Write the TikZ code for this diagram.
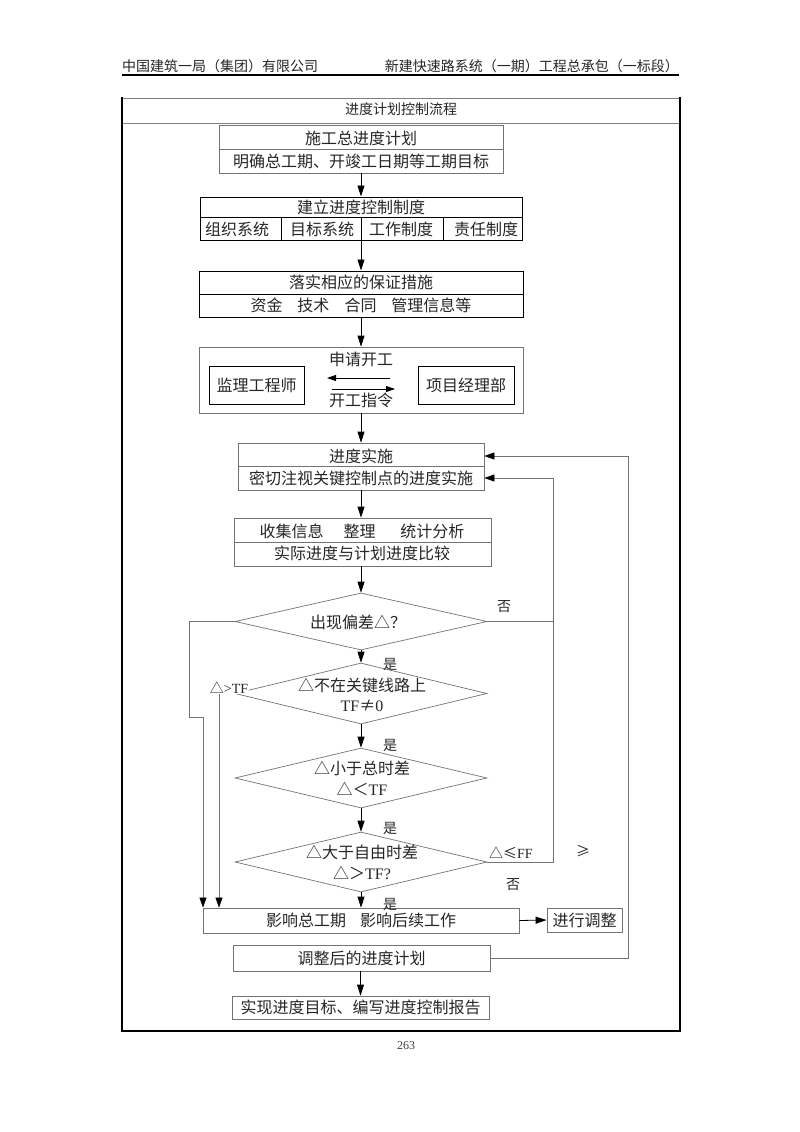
\documentclass[tikz,border=0pt]{standalone}
\usepackage{fontspec}
\setmainfont{Liberation Serif}
\newfontfamily\cjk{Noto Sans CJK SC}
\usetikzlibrary{arrows.meta,shapes.geometric}
\begin{document}
\begin{tikzpicture}[x=1pt,y=-1pt,
 gbox/.style={draw=black!55, line width=0.8pt, inner sep=0pt, rectangle},
 kbox/.style={draw=black, line width=1pt, inner sep=0pt, rectangle},
 dia/.style={draw=black!55, line width=0.7pt, diamond, inner sep=0pt},
 txt/.style={font=\cjk\fontsize{16pt}{16pt}\selectfont, inner sep=0pt, text=black!85},
 sm/.style={font=\cjk\fontsize{14pt}{14pt}\selectfont, inner sep=0pt, text=black!85},
 flow/.style={draw=black, line width=0.8pt, -{Triangle[length=11pt,width=7pt]}},
 small/.style={draw=black, line width=0.8pt, -{Triangle[length=9pt,width=6pt]}},
 loopline/.style={draw=black!55, line width=0.7pt, -{Triangle[length=10pt,width=7pt,color=black]}},
 plain/.style={draw=black!55, line width=0.7pt},
 ]
\useasboundingbox (0,0) rectangle (800,1132);
\fill[white] (0,0) rectangle (800,1132);

% header
\node[sm, anchor=west] (hl) at (122,66) {中国建筑一局（集团）有限公司};
\node[sm, anchor=east] (hr) at (679,66) {新建快速路系统（一期）工程总承包（一标段）};
\draw[black, line width=1.6pt] (122,75) -- (679,75);

% frame
\draw[black!50, line width=0.8pt] (122,98) -- (680,98);
\draw[black!50, line width=0.8pt] (122,123) -- (680,123);
\draw[black, line width=2.4pt] (122,97) -- (122,1031);
\draw[black, line width=2.4pt] (680,97) -- (680,1031);
\draw[black, line width=2.4pt] (121,1031) -- (681,1031);
\node[sm] (title) at (401,109) {进度计划控制流程};
\node[font=\fontsize{12pt}{12pt}\selectfont, text=black!75, inner sep=0pt] (page) at (406,1046) {263};

% box 1
\node[gbox, minimum width=284pt, minimum height=48pt] (b1) at (361,149) {};
\draw[black!55, line width=0.8pt] (b1.west) -- (b1.east);
\node[txt] (b1a) at (361,138) {施工总进度计划};
\node[txt] (b1b) at (361,161) {明确总工期、开竣工日期等工期目标};

% box 2
\node[kbox, minimum width=322pt, minimum height=43pt] (b2) at (361,218.5) {};
\draw[black, line width=1pt] (200,217) -- (522,217);
\draw[black, line width=1pt] (281,217) -- (281,240);
\draw[black, line width=1pt] (361,217) -- (361,240);
\draw[black, line width=1pt] (443,217) -- (443,240);
\node[txt] (b2a) at (361,207) {建立进度控制制度};
\node[txt] (b2c1) at (237,229) {组织系统};
\node[txt] (b2c2) at (322,229) {目标系统};
\node[txt] (b2c3) at (401,229) {工作制度};
\node[txt] (b2c4) at (486,229) {责任制度};

% box 3
\node[kbox, minimum width=324pt, minimum height=46pt] (b3) at (361,294) {};
\draw[black, line width=1pt] (b3.west) -- (b3.east);
\node[txt] (b3a) at (361,282) {落实相应的保证措施};
\node[txt] (b3b) at (361,305) {资金\hspace{15pt}技术\hspace{15pt}合同\hspace{15pt}管理信息等};

% box 4
\node[gbox, minimum width=324pt, minimum height=66pt] (b4) at (361,380) {};
\node[kbox, minimum width=95pt, minimum height=38pt] (jl) at (256.5,385) {};
\node[txt] (jlt) at (256.5,385) {监理工程师};
\node[kbox, minimum width=96pt, minimum height=38pt] (xm) at (466,385) {};
\node[txt] (xmt) at (466,385) {项目经理部};
\coordinate (a1s) at (390,378);
\coordinate (a1e) at (327,378);
\coordinate (a2s) at (332,389);
\coordinate (a2e) at (395,389);
\draw[small] (a1s) -- (a1e);
\draw[small] (a2s) -- (a2e);
\node[txt] (sq) at (361,359) {申请开工};
\node[txt] (zl) at (361,400) {开工指令};

% box 5
\node[gbox, minimum width=246pt, minimum height=47pt] (b5) at (361,466.5) {};
\draw[black!55, line width=0.8pt] (238,466) -- (484,466);
\node[txt] (b5a) at (361,456) {进度实施};
\node[txt] (b5b) at (361,478) {密切注视关键控制点的进度实施};

% box 6
\node[gbox, minimum width=257pt, minimum height=48pt] (b6) at (362.5,542) {};
\draw[black!55, line width=0.8pt] (b6.west) -- (b6.east);
\node[txt] (b6a) at (362,531) {收集信息\hspace{20pt}整理\hspace{25pt}统计分析};
\node[txt] (b6b) at (362,553) {实际进度与计划进度比较};

% diamonds
\node[dia, minimum width=252pt, minimum height=57pt] (d1) at (361,621.5) {};
\node[txt] (d1t) at (358,622) {出现偏差△？};
\node[dia, minimum width=252pt, minimum height=61pt] (d2) at (361,693.5) {};
\node[txt] (d2a) at (362,685) {△不在关键线路上};
\node[txt] (d2b) at (362,706) {\rmfamily TF{\cjk ≠}0};
\node[dia, minimum width=252pt, minimum height=60pt] (d3) at (361,778) {};
\node[txt] (d3a) at (362,768) {△小于总时差};
\node[txt] (d3b) at (362,789) {△＜{\rmfamily TF}};
\node[dia, minimum width=252pt, minimum height=60pt] (d4) at (361,862) {};
\node[txt] (d4a) at (362,852) {△大于自由时差};
\node[txt] (d4b) at (362,873) {△＞{\rmfamily TF?}};

% lower boxes
\node[gbox, minimum width=316pt, minimum height=25pt] (yx) at (361,920.5) {};
\node[txt] (yxt) at (361,920) {影响总工期\hspace{14pt}影响后续工作};
\node[gbox, minimum width=75pt, minimum height=24pt] (jt) at (584.5,920) {};
\node[txt] (jtt) at (584.5,920) {进行调整};
\node[gbox, minimum width=257pt, minimum height=26pt] (tz) at (361.5,958) {};
\node[txt] (tzt) at (361.5,958) {调整后的进度计划};
\node[gbox, minimum width=257pt, minimum height=23pt] (sx) at (360.5,1007.5) {};
\node[txt] (sxt) at (360.5,1007.5) {实现进度目标、编写进度控制报告};

% main flow arrows
\draw[flow] (b1.south -| b2.north) -- (b2.north);
\draw[flow] (b2.south) -- (b3.north);
\draw[flow] (b3.south) -- (b4.north);
\draw[flow] (b4.south) -- (b5.north);
\draw[flow] (b5.south) -- (b5.south |- b6.north);
\draw[flow] (b5.south |- b6.south) -- (d1.north);
\draw[flow] (d1.south) -- (d2.north);
\draw[flow] (d2.south) -- (d3.north);
\draw[flow] (d3.south) -- (d4.north);
\draw[flow] (d4.south) -- (d4.south |- yx.north);
\draw[flow] (yx.east) -- (jt.west);
\draw[flow] (tz.south -| sx.north) -- (sx.north);

% labels
\node[sm] (y1) at (390,664) {是};
\node[sm] (y2) at (390,745) {是};
\node[sm] (y3) at (390,828) {是};
\node[sm] (y4) at (390,904) {是};
\node[sm] (n1) at (504,607) {否};
\node[sm] (n4) at (513,885) {否};
\node[sm, anchor=west] (le) at (489,853) {△≤{\rmfamily FF}};
\node[sm] (ge) at (583,851) {≥};

% right loops
\coordinate (r1) at (553,0);
\coordinate (r2) at (628,0);
\draw[loopline] (d1.east) -| (r1 |- b5b) -- (b5.east |- b5b);
\draw[plain] (d4.east) -| (r1 |- d1.east);
\draw[loopline] (tz.east) -| (r2 |- b5a) -- (b5.east |- b5a);

% left loops
\coordinate (l1) at (189,0);
\coordinate (l1b) at (203,717);
\coordinate (l2) at (219,0);
\draw[loopline] (d1.west) -| (l1 |- l1b) -- (l1b) -- (l1b |- yx.north);
\draw[loopline] (d2.west) -| (l2 |- yx.north);
\node[sm, fill=white, inner sep=0.5pt] (gt) at (229,688) {△{\rmfamily >TF}};
\end{tikzpicture}
\end{document}
